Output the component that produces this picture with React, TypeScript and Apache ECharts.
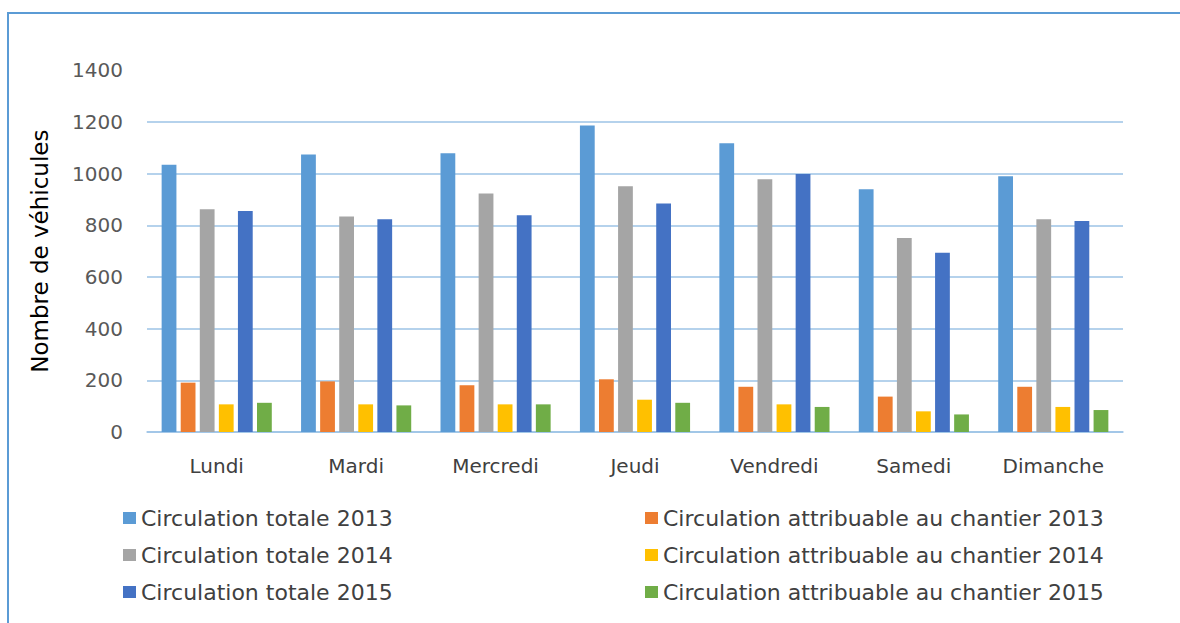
import React, { useEffect, useRef } from "react";
import * as echarts from "echarts";

const days = ["Lundi", "Mardi", "Mercredi", "Jeudi", "Vendredi", "Samedi", "Dimanche"];
const seriesNames = [
  "Circulation totale 2013",
  "Circulation attribuable au chantier 2013",
  "Circulation totale 2014",
  "Circulation attribuable au chantier 2014",
  "Circulation totale 2015",
  "Circulation attribuable au chantier 2015",
];
const total2013 = [1034, 1074, 1079, 1186, 1118, 940, 990];
const chantier2013 = [191, 196, 181, 204, 175, 137, 175];
const total2014 = [862, 834, 923, 951, 978, 751, 823];
const chantier2014 = [107, 107, 107, 125, 107, 80, 97];
const total2015 = [855, 823, 839, 884, 999, 694, 817];
const chantier2015 = [113, 103, 107, 113, 97, 68, 85];
const yTicks = [0, 200, 400, 600, 800, 1000, 1200, 1400];

const colors = ["#5B9BD5", "#ED7D31", "#A5A5A5", "#FFC000", "#4472C4", "#70AD47"];
const values = [total2013, chantier2013, total2014, chantier2014, total2015, chantier2015];

const FONT = "DejaVu Sans";
const GRID_COLOR = "#9DC3E6";

export default function App() {
  const ref = useRef<HTMLDivElement>(null);
  useEffect(() => {
    if (!ref.current) return;
    const chart = echarts.init(ref.current, undefined, { renderer: "svg" });
    const legendText = { fontFamily: FONT, fontSize: 22, color: "#404040", lineHeight: 22 };
    chart.setOption({
      animation: false,
      backgroundColor: "#ffffff",
      grid: { left: 147, right: 57, top: 70.3, bottom: 191, containLabel: false },
      xAxis: {
        type: "category",
        data: days,
        axisLine: { show: true, lineStyle: { color: GRID_COLOR, width: 1.5 } },
        axisTick: { show: false },
        axisLabel: { fontFamily: FONT, fontSize: 20, color: "#404040", margin: 24 },
      },
      yAxis: {
        type: "value",
        min: yTicks[0],
        max: yTicks[yTicks.length - 1],
        interval: 200,
        name: "Nombre de véhicules",
        nameLocation: "middle",
        nameRotate: 90,
        nameGap: 96,
        nameTextStyle: { fontFamily: FONT, fontSize: 23, color: "#000000" },
        axisLine: { show: false },
        axisTick: { show: false },
        axisLabel: {
          fontFamily: FONT,
          fontSize: 20,
          color: "#595959",
          margin: 24,
          formatter: (v: number) => String(v),
        },
        splitLine: {
          show: true,
          lineStyle: {
            color: yTicks.map((t, i) => (i === yTicks.length - 1 ? "rgba(0,0,0,0)" : GRID_COLOR)),
            width: 1.5,
          },
        },
      },
      legend: [
        {
          data: [seriesNames[0], seriesNames[2], seriesNames[4]],
          orient: "vertical",
          left: 118,
          top: 502,
          itemWidth: 13,
          itemHeight: 12,
          itemGap: 15,
          icon: "rect",
          textStyle: legendText,
        },
        {
          data: [seriesNames[1], seriesNames[3], seriesNames[5]],
          orient: "vertical",
          left: 640,
          top: 502,
          itemWidth: 13,
          itemHeight: 12,
          itemGap: 15,
          icon: "rect",
          textStyle: legendText,
        },
      ],
      graphic: [
        {
          type: "polyline",
          shape: { points: [[8, 623], [8, 13], [1180, 13]] },
          style: { stroke: "#5B9BD5", lineWidth: 2, fill: "none" },
          silent: true,
        },
      ],
      series: values.map((v, i) => ({
        type: "bar",
        name: seriesNames[i],
        data: v,
        itemStyle: { color: colors[i] },
        barGap: "29%",
        barCategoryGap: "21%",
      })),
    });
    return () => chart.dispose();
  }, []);
  return (
    <div
      ref={ref}
      style={{ position: "fixed", left: 0, top: 0, width: 1180, height: 623 }}
    />
  );
}
